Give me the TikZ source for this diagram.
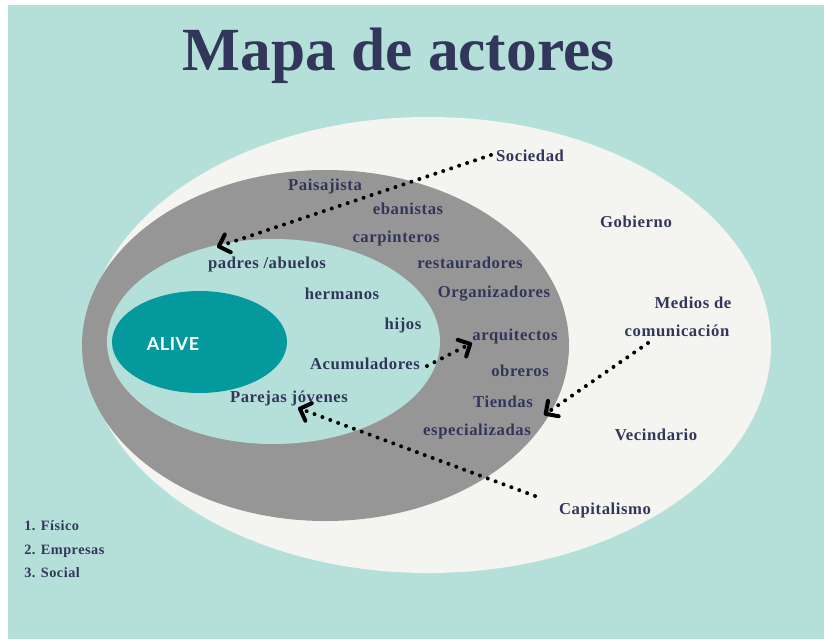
\documentclass[tikz,border=0pt]{standalone}
\usepackage{fontspec}
\setmainfont{Liberation Serif}[BoldFont={Liberation Serif Bold}]
\newfontfamily\lbl{Liberation Serif Bold}[LetterSpace=3.5]
\newfontfamily\alivefont{Lato Bold}[LetterSpace=3]
\usetikzlibrary{arrows.meta}
\definecolor{bgc}{HTML}{B5E0D9}
\definecolor{offw}{HTML}{F4F4F0}
\definecolor{grayc}{HTML}{979696}
\definecolor{tealc}{HTML}{04999C}
\definecolor{navy}{HTML}{32365A}
\tikzset{
  lab/.style={text=navy,inner sep=0pt,anchor=base,yshift=-3.8pt,font=\lbl\fontsize{12.5}{14}\selectfont},
  side/.style={lab,font=\lbl\fontsize{10.7}{12}\selectfont,anchor=base west},
  dotarrow/.style={line width=3pt,line cap=round,dash pattern=on 0pt off 6.3pt,black,
    -{Straight Barb[length=7pt,width=14pt,line width=3pt,round]}},
}
\begin{document}
\begin{tikzpicture}[x=0.75pt,y=-0.75pt]
\useasboundingbox (0,0) rectangle (824,639);
\fill[white] (0,0) rectangle (824,639);
\fill[bgc] (8,5) rectangle (824,639);
\fill[offw] (428.5,345) ellipse [x radius=342.5,y radius=228];
\fill[grayc] (325.5,345.5) ellipse [x radius=243.5,y radius=175.5];
\fill[bgc] (273.5,341.5) ellipse [x radius=166.5,y radius=102.5];
\fill[tealc] (199.5,342) ellipse [x radius=87.5,y radius=51];
\node[inner sep=0pt,text=navy,anchor=base,font=\bfseries\fontsize{46}{52}\selectfont] (title) at (398.5,70) {Mapa de actores};
\node[inner sep=0pt,text=white,font=\alivefont\fontsize{13.5}{15}\selectfont] (alive) at (173,344) {ALIVE};
\node[lab] (paisajista) at (325,185) {Paisajista};
\node[lab] (ebanistas) at (408,209) {ebanistas};
\node[lab] (carpinteros) at (396,237) {carpinteros};
\node[lab] (padres) at (267,263) {padres /abuelos};
\node[lab] (restauradores) at (470,263) {restauradores};
\node[lab] (organizadores) at (494,292) {Organizadores};
\node[lab] (hermanos) at (342,294) {hermanos};
\node[lab] (hijos) at (403,324) {hijos};
\node[lab] (arquitectos) at (515,335) {arquitectos};
\node[lab] (acumuladores) at (365,364) {Acumuladores};
\node[lab] (obreros) at (520,371) {obreros};
\node[lab] (parejas) at (289,397) {Parejas jóvenes};
\node[lab] (tiendas) at (503,402) {Tiendas};
\node[lab] (especializadas) at (477,430) {especializadas};
\node[lab] (sociedad) at (530,156) {Sociedad};
\node[lab] (gobierno) at (636,222) {Gobierno};
\node[lab] (medios) at (693,303) {Medios de};
\node[lab] (comunicacion) at (677,331) {comunicación};
\node[lab] (vecindario) at (656,435) {Vecindario};
\node[lab] (capitalismo) at (605,509) {Capitalismo};
\node[side] (l1) at (24,525) {1. Físico};
\node[side] (l2) at (24,549) {2. Empresas};
\node[side] (l3) at (24,572) {3. Social};
\coordinate (s0) at (491,155);
\coordinate (s1) at (217,247);
\coordinate (m0) at (648,343);
\coordinate (m1) at (544,415);
\coordinate (a0) at (427,366);
\coordinate (a1) at (472,343);
\coordinate (c0) at (535,496);
\coordinate (c1) at (298,408);
\draw[dotarrow] (s0) -- (s1);
\draw[dotarrow] (m0) -- (m1);
\draw[dotarrow] (a0) -- (a1);
\draw[dotarrow] (c0) -- (c1);
\end{tikzpicture}
\end{document}
